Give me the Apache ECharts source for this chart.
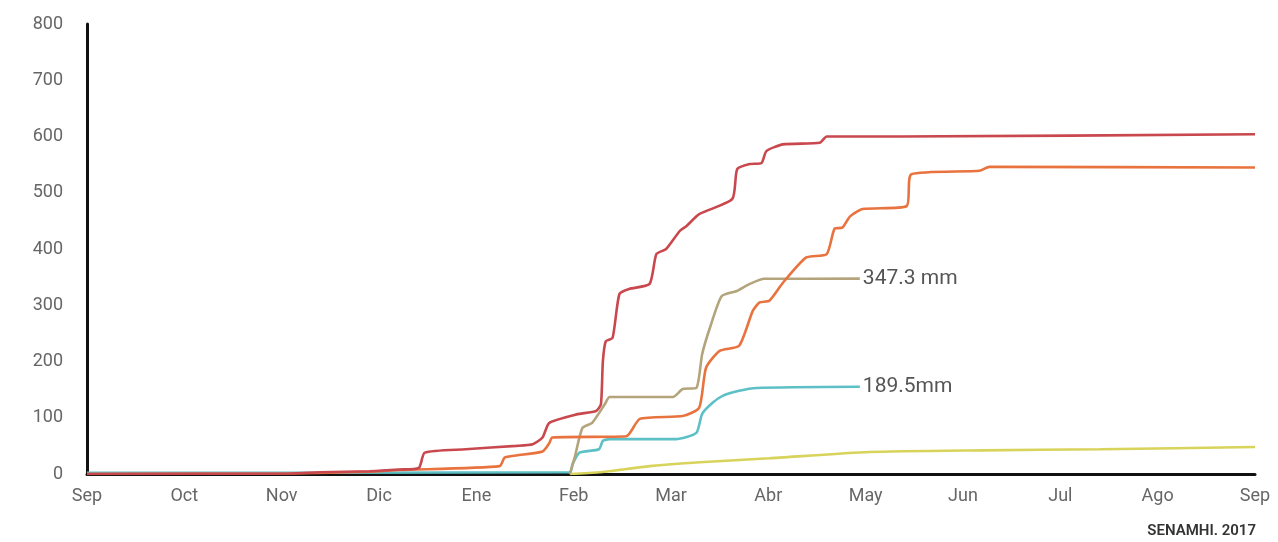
<!DOCTYPE html>
<html><head><meta charset="utf-8">
<script src="https://cdn.jsdelivr.net/npm/echarts@6/dist/echarts.min.js"></script>
<style>html,body{margin:0;padding:0;background:#fff}#c{width:1278px;height:542px}</style>
</head><body><div id="c"></div>
<script>
// x in months since 1 Sep (0..12), y in mm
const monthLabels = ['Sep','Oct','Nov','Dic','Ene','Feb','Mar','Abr','May','Jun','Jul','Ago','Sep'];
const yTicks = [0,100,200,300,400,500,600,700,800];
const redSeries = [[0,0],[2.08,1],[2.39,3],[2.90,5],[3.21,8],[3.41,11],[3.47,38],[3.89,44],[4.41,50],[4.58,53],[4.68,65],[4.75,91],[5.03,106],[5.23,112],[5.28,124],[5.30,200],[5.33,236],[5.40,242],[5.47,320],[5.57,329],[5.78,338],[5.85,391],[5.95,400],[6.09,432],[6.16,441],[6.29,462],[6.63,489],[6.68,542],[6.81,551],[6.93,553],[6.98,574],[7.15,586],[7.53,589],[7.60,600],[8.35,600],[12,604]];
const orangeSeries = [[0,0],[2.08,1],[2.90,4],[3.21,7],[4.24,14],[4.29,29],[4.41,33],[4.68,40],[4.75,55],[4.78,65],[5.54,67],[5.68,98],[6.12,103],[6.29,118],[6.36,189],[6.50,219],[6.70,228],[6.84,290],[6.91,305],[7.01,308],[7.15,340],[7.39,385],[7.60,391],[7.68,436],[7.76,438],[7.84,458],[7.97,471],[8.42,476],[8.47,533],[9.17,539],[9.27,546],[12,545]];
const tanSeries = [[4.96,0],[5.01,29],[5.09,82],[5.19,91],[5.32,124],[5.37,137],[6.02,137],[6.12,151],[6.26,153],[6.32,213],[6.40,260],[6.52,316],[6.67,325],[6.81,338],[6.96,347],[7.94,347.3]];
const cyanSeries = [[0,2],[4.96,3],[4.99,18],[5.06,38],[5.26,44],[5.30,59],[5.37,62],[6.05,62],[6.26,73],[6.32,107],[6.43,127],[6.53,139],[6.70,148],[6.88,153],[7.94,155]];
const yellowSeries = [[4.96,0],[5.26,3],[5.78,14],[6.30,21],[7.01,28],[8.04,39],[9.20,42],[10.41,44],[12,48]];
const tanLabel = '347.3 mm';
const cyanLabel = '189.5mm';
const sourceText = 'SENAMHI. 2017';

const chart = echarts.init(document.getElementById('c'), null, {renderer:'canvas'});
const FONT = 'Roboto, "Noto Sans", sans-serif';
function line(data, color, label) {
  const s = {type:'line', data, showSymbol:false, symbol:'none', smooth:0.2,
    lineStyle:{color, width:2.6}, silent:true, z:2};
  if (label) {
    s.endLabel = {show:true, formatter:label, color:'#555', fontSize:21, fontFamily:FONT, distance:3};
  }
  return s;
}
chart.setOption({
  animation:false,
  grid:{left:87, right:23, top:24, bottom:68},
  xAxis:{type:'value', min:0, max:12, interval:1,
    axisLine:{show:true, onZero:false, lineStyle:{color:'#111', width:3}},
    axisTick:{show:false}, splitLine:{show:false},
    axisLabel:{color:'#666', fontSize:18, fontFamily:FONT, margin:13,
      formatter:v=>monthLabels[Math.round(v)]}},
  yAxis:{type:'value', min:0, max:800, interval:100,
    axisLine:{show:true, lineStyle:{color:'#111', width:3}},
    axisTick:{show:false}, splitLine:{show:false},
    axisLabel:{color:'#666', fontSize:18, fontFamily:FONT, margin:24,
      formatter:v=>yTicks.includes(v)?String(v):''}},
  graphic:[{type:'text', right:22, bottom:3, style:{text:sourceText, fill:'#333', font:'600 15px '+FONT}}],
  series:[
    line(yellowSeries,'#d8d35a'),
    line(cyanSeries,'#5cc0c6',cyanLabel),
    line(tanSeries,'#b3a47c',tanLabel),
    line(orangeSeries,'#e8733f'),
    line(redSeries,'#c9484e')
  ]
});
</script></body></html>
